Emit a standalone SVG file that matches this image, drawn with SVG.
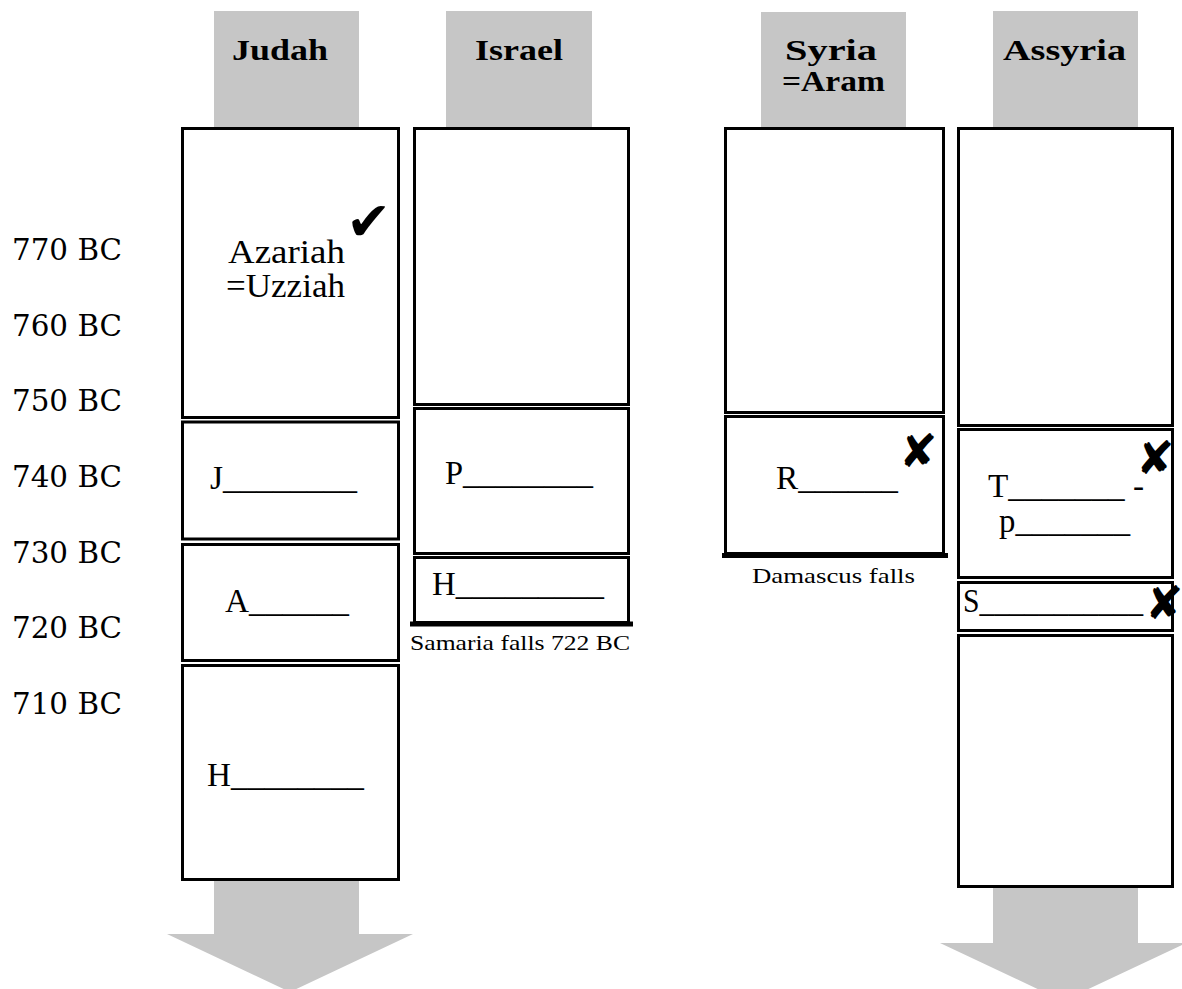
<svg xmlns="http://www.w3.org/2000/svg" width="1182" height="989" viewBox="0 0 1182 989">
<style>
.bar{fill:#c6c6c6}
.box{fill:#fff;stroke:#000;stroke-width:3}
.hd{font-weight:bold;font-size:30px;fill:#000}
.yr{font-size:29px;fill:#000}
.lb{font-size:33px;fill:#000}
.sm{font-size:22px;fill:#000}
.thick{stroke:#000;stroke-width:5}
</style>
<rect width="1182" height="989" fill="#fff"/>
<g id="years" font-family="DejaVu Serif, serif">
<text class="yr" x="12" y="260" textLength="110" lengthAdjust="spacingAndGlyphs">770 BC</text>
<text class="yr" x="12" y="336" textLength="110" lengthAdjust="spacingAndGlyphs">760 BC</text>
<text class="yr" x="12" y="411" textLength="110" lengthAdjust="spacingAndGlyphs">750 BC</text>
<text class="yr" x="12" y="487" textLength="110" lengthAdjust="spacingAndGlyphs">740 BC</text>
<text class="yr" x="12" y="563" textLength="110" lengthAdjust="spacingAndGlyphs">730 BC</text>
<text class="yr" x="12" y="638" textLength="110" lengthAdjust="spacingAndGlyphs">720 BC</text>
<text class="yr" x="12" y="714" textLength="110" lengthAdjust="spacingAndGlyphs">710 BC</text>
</g>
<g id="arrows">
<rect class="bar" x="214" y="11" width="145" height="118"/>
<rect class="bar" x="446" y="11" width="146" height="118"/>
<rect class="bar" x="761" y="12" width="145" height="117"/>
<rect class="bar" x="993" y="11" width="145" height="118"/>
<polygon class="bar" points="214,860 359,860 359,934 413,934 290,992 167,934 214,934"/>
<polygon class="bar" points="993,870 1138,870 1138,943 1186,943 1063,1001 940,943 993,943"/>
</g>
<g id="headers" font-family="Liberation Serif, serif">
<text class="hd" x="232" y="60" textLength="96" lengthAdjust="spacingAndGlyphs">Judah</text>
<text class="hd" x="475" y="60" textLength="88" lengthAdjust="spacingAndGlyphs">Israel</text>
<text class="hd" x="785" y="60" textLength="92" lengthAdjust="spacingAndGlyphs">Syria</text>
<text class="hd" x="782" y="91" textLength="103" lengthAdjust="spacingAndGlyphs">=Aram</text>
<text class="hd" x="1003" y="60" textLength="123" lengthAdjust="spacingAndGlyphs">Assyria</text>
</g>
<g id="judah" font-family="Liberation Serif, serif">
<rect class="box" x="182.5" y="128.5" width="216" height="289"/>
<rect class="box" x="182.5" y="422" width="216" height="117"/>
<rect class="box" x="182.5" y="544.5" width="216" height="116"/>
<rect class="box" x="182.5" y="665.5" width="216" height="214"/>
<text class="lb" x="228" y="263" textLength="117" lengthAdjust="spacingAndGlyphs">Azariah</text>
<text class="lb" x="226" y="297" textLength="119" lengthAdjust="spacingAndGlyphs">=Uzziah</text>
<text x="346" y="240" font-size="54" font-family="DejaVu Sans, sans-serif">✔</text>
<text class="lb" x="210" y="489" textLength="147" lengthAdjust="spacingAndGlyphs">J________</text>
<text class="lb" x="225" y="612" textLength="124" lengthAdjust="spacingAndGlyphs">A______</text>
<text class="lb" x="207" y="786" textLength="157" lengthAdjust="spacingAndGlyphs">H________</text>
</g>
<g id="israel" font-family="Liberation Serif, serif">
<rect class="box" x="414.5" y="128.5" width="214" height="276"/>
<rect class="box" x="414.5" y="408.5" width="214" height="145"/>
<rect class="box" x="414.5" y="557.5" width="214" height="65"/>
<line class="thick" x1="410" y1="624" x2="633" y2="624"/>
<text class="lb" x="445" y="484" textLength="148" lengthAdjust="spacingAndGlyphs">P________</text>
<text class="lb" x="432" y="595" textLength="172" lengthAdjust="spacingAndGlyphs">H_________</text>
<text class="sm" x="410" y="650" textLength="220" lengthAdjust="spacingAndGlyphs">Samaria falls 722 BC</text>
</g>
<g id="syria" font-family="Liberation Serif, serif">
<rect class="box" x="725.5" y="128.5" width="218" height="284"/>
<rect class="box" x="725.5" y="416.5" width="218" height="137"/>
<line class="thick" x1="722" y1="555.5" x2="948" y2="555.5"/>
<text class="lb" x="776" y="489" textLength="122" lengthAdjust="spacingAndGlyphs">R______</text>
<text x="899" y="467" font-size="46" font-family="DejaVu Sans, sans-serif">✘</text>
<text class="sm" x="752" y="583" textLength="163" lengthAdjust="spacingAndGlyphs">Damascus falls</text>
</g>
<g id="assyria" font-family="Liberation Serif, serif">
<rect class="box" x="958.5" y="128.5" width="214" height="297"/>
<rect class="box" x="958.5" y="429.5" width="214" height="148"/>
<rect class="box" x="958.5" y="582.5" width="214" height="48"/>
<rect class="box" x="958.5" y="635.5" width="214" height="251"/>
<text class="lb" x="988" y="497" textLength="156" lengthAdjust="spacingAndGlyphs">T_______ -</text>
<text class="lb" x="999" y="532" textLength="131" lengthAdjust="spacingAndGlyphs">p_______</text>
<text class="lb" x="963" y="612" textLength="180" lengthAdjust="spacingAndGlyphs">S___________</text>
<text x="1136" y="474" font-size="46" font-family="DejaVu Sans, sans-serif">✘</text>
<text x="1145" y="619" font-size="46" font-family="DejaVu Sans, sans-serif">✘</text>
</g>
</svg>
